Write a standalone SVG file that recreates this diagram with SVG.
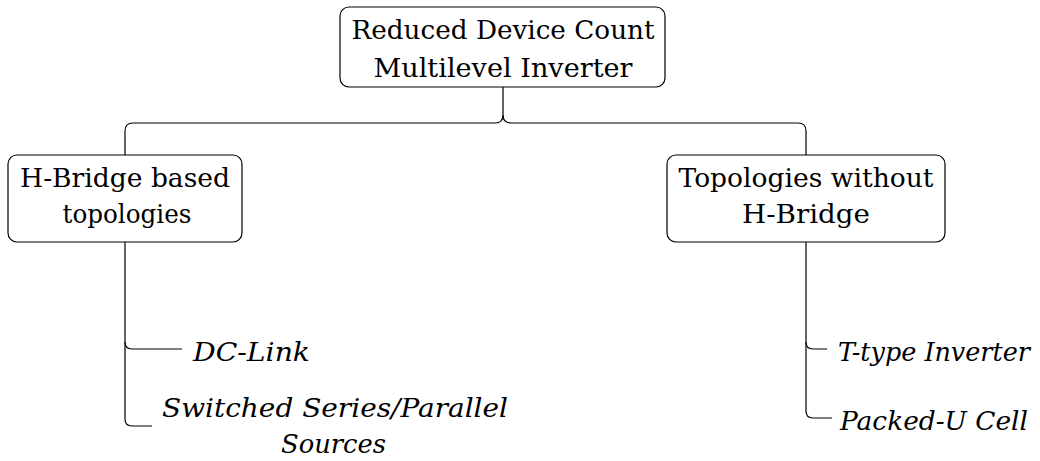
<svg xmlns="http://www.w3.org/2000/svg" width="1040" height="461" viewBox="0 0 1040 461">
<style>
.box{fill:#fff;stroke:#000;stroke-width:1.2}
.t{font-family:"DejaVu Serif","Liberation Serif",serif;font-size:26px;fill:#000;text-anchor:middle}
.i{font-family:"DejaVu Serif","Liberation Serif",serif;font-size:26px;font-style:italic;fill:#000}
.c{fill:none;stroke:#000;stroke-width:1.2}
</style>
<rect width="1040" height="461" fill="#fff"/>
<g id="connectors">
<path class="c" d="M503 87 L503 115 Q503 123 495 123 L133 123 Q125 123 125 131 L125 155"/>
<path class="c" d="M503 115 Q503 123 511 123 L798 123 Q806 123 806 131 L806 155"/>
<path class="c" d="M125 242 L125 342 Q125 349 132 349 L182 349"/>
<path class="c" d="M125 342 L125 419 Q125 426 132 426 L152 426"/>
<path class="c" d="M806 242 L806 342 Q806 349 813 349 L827 349"/>
<path class="c" d="M806 342 L806 411 Q806 418 813 418 L832 418"/>
</g>
<g id="root">
<rect class="box" x="340" y="7" width="325" height="80" rx="9"/>
<text class="t" x="503" y="39" textLength="303" lengthAdjust="spacingAndGlyphs">Reduced Device Count</text>
<text class="t" x="503" y="77" textLength="259" lengthAdjust="spacingAndGlyphs">Multilevel Inverter</text>
</g>
<g id="hbridge">
<rect class="box" x="8" y="155" width="234" height="87" rx="9"/>
<text class="t" x="125" y="187" textLength="210" lengthAdjust="spacingAndGlyphs">H-Bridge based</text>
<text class="t" x="127" y="223" textLength="129" lengthAdjust="spacingAndGlyphs">topologies</text>
</g>
<g id="nohbridge">
<rect class="box" x="667" y="155" width="278" height="87" rx="9"/>
<text class="t" x="806" y="187" textLength="255" lengthAdjust="spacingAndGlyphs">Topologies without</text>
<text class="t" x="806" y="223" textLength="128" lengthAdjust="spacingAndGlyphs">H-Bridge</text>
</g>
<g id="dclink">
<text class="i" x="193" y="361" textLength="117" lengthAdjust="spacingAndGlyphs">DC-Link</text>
</g>
<g id="switched">
<text class="i" x="162" y="417" textLength="346" lengthAdjust="spacingAndGlyphs">Switched Series/Parallel</text>
<text class="i" x="281" y="453" textLength="105" lengthAdjust="spacingAndGlyphs">Sources</text>
</g>
<g id="ttype">
<text class="i" x="838" y="361" textLength="192" lengthAdjust="spacingAndGlyphs">T-type Inverter</text>
</g>
<g id="packedu">
<text class="i" x="840" y="430" textLength="188" lengthAdjust="spacingAndGlyphs">Packed-U Cell</text>
</g>
</svg>
